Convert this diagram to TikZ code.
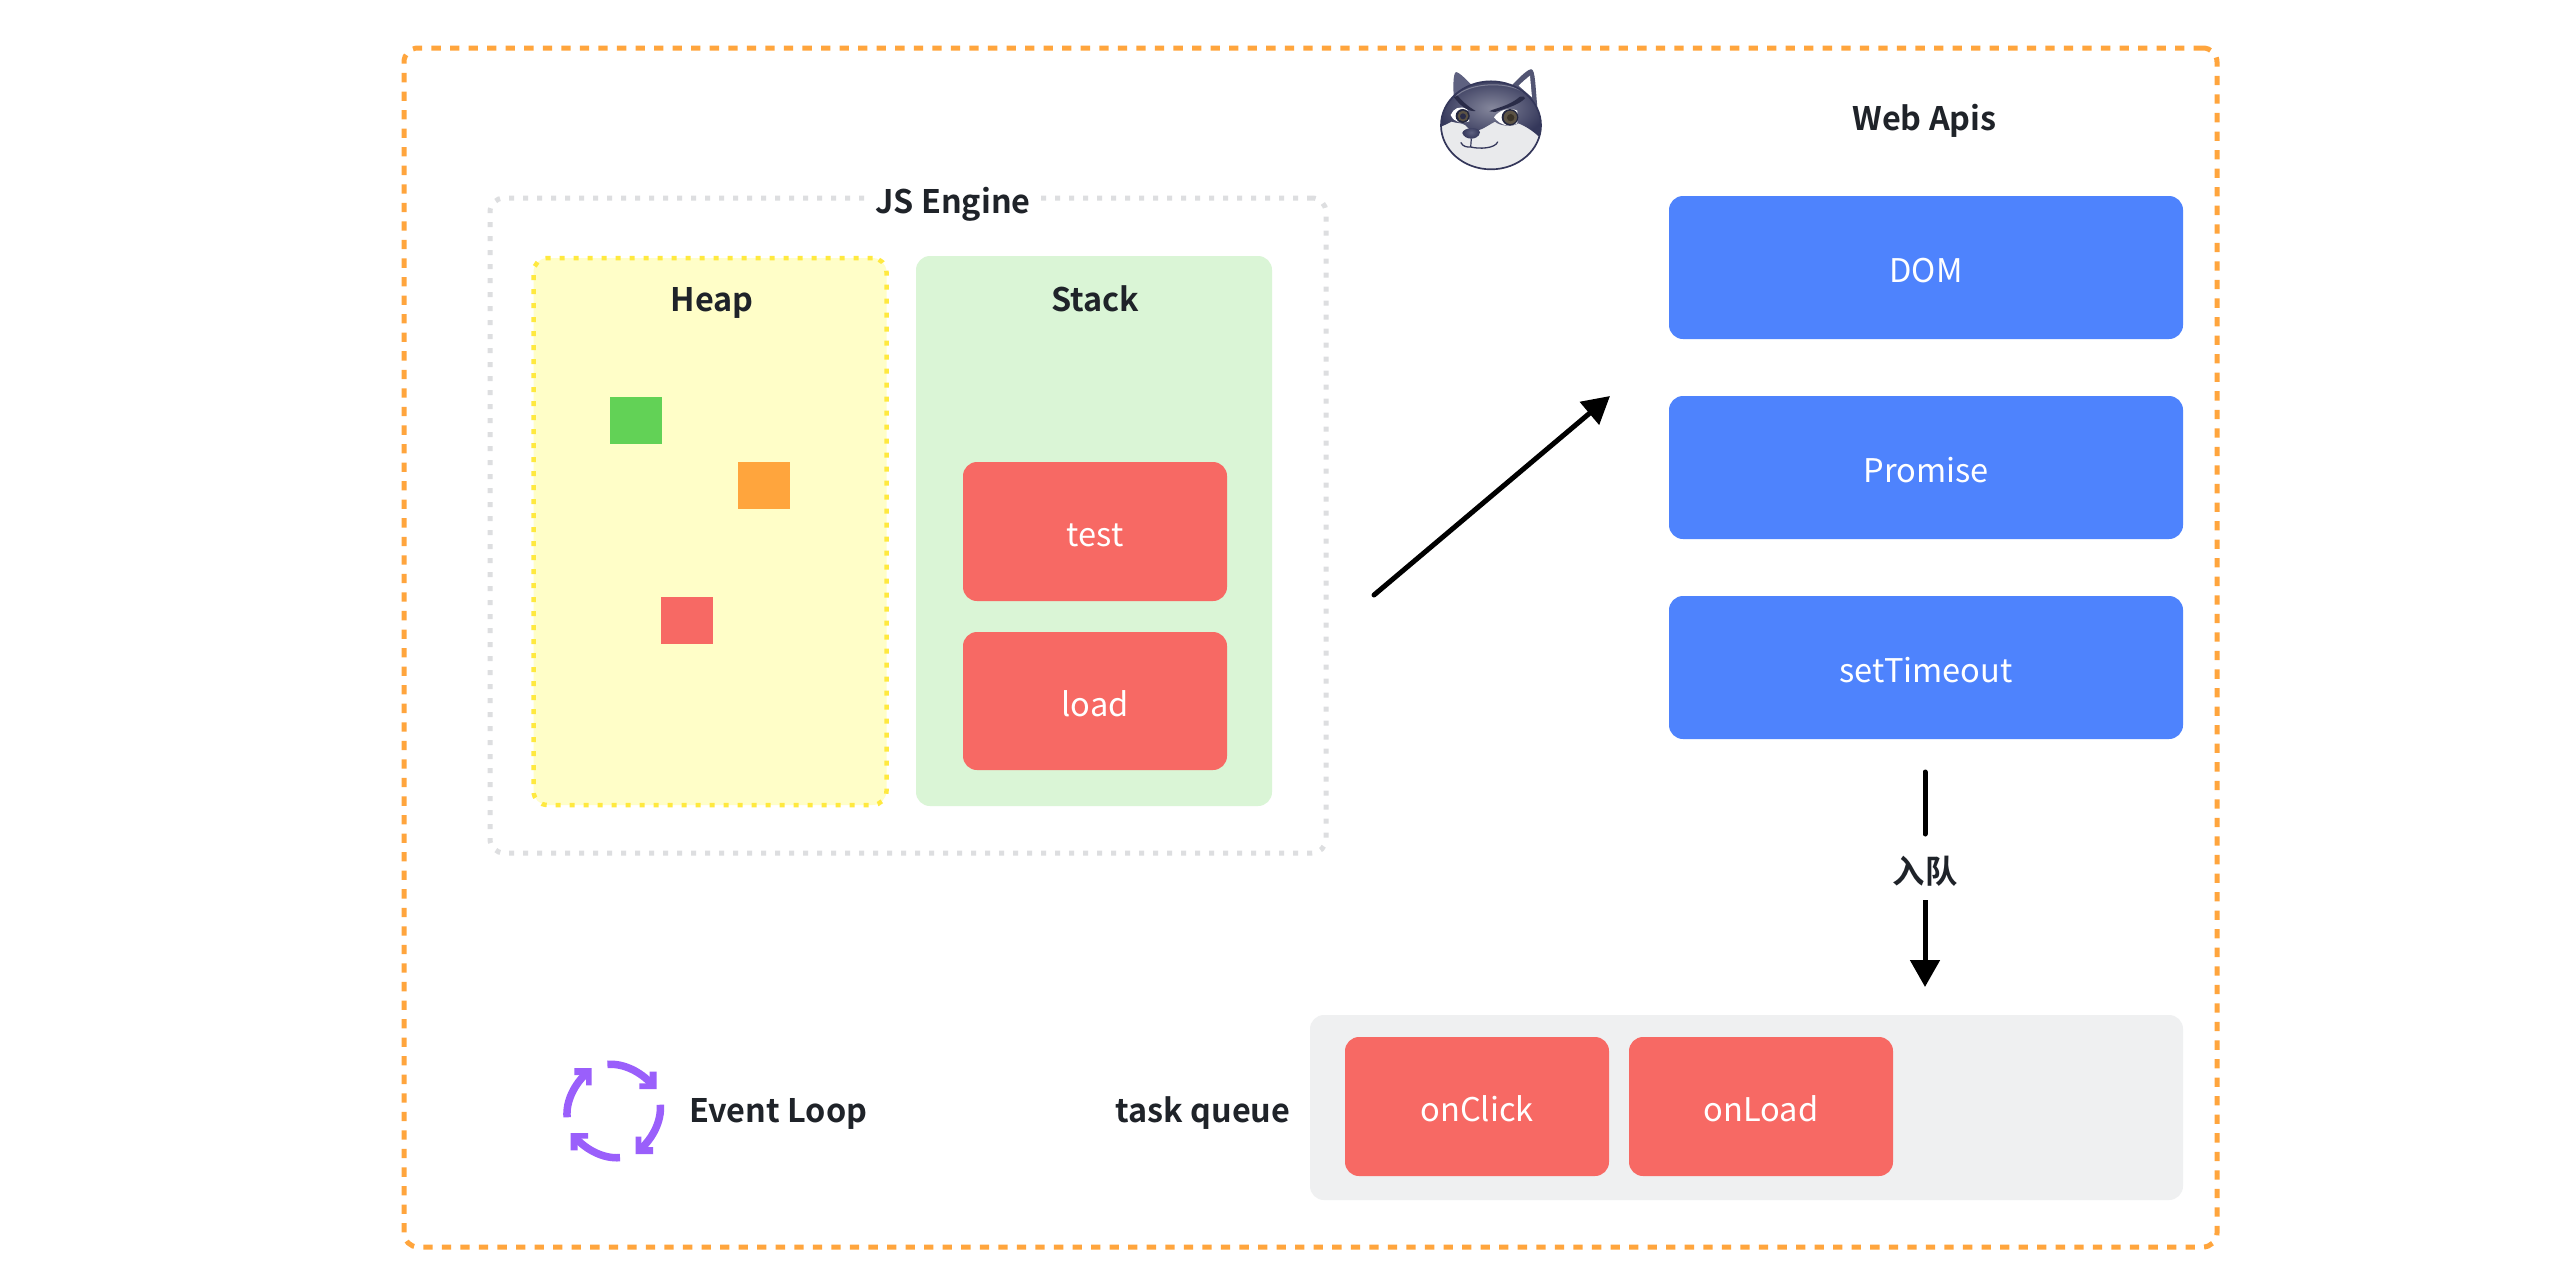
\documentclass[tikz,border=0pt]{standalone}
\usepackage{fontspec}
\setmainfont{Noto Sans CJK SC}[BoldFont={Noto Sans CJK SC Bold}]
\usetikzlibrary{arrows.meta}
\definecolor{outerc}{HTML}{FFA53D}
\definecolor{grayc}{HTML}{DDDEE0}
\definecolor{heapf}{HTML}{FFFEC8}
\definecolor{heaps}{HTML}{FFE93F}
\definecolor{stackf}{HTML}{DAF5D6}
\definecolor{redc}{HTML}{F76964}
\definecolor{greenc}{HTML}{62D256}
\definecolor{bluec}{HTML}{4E83FD}
\definecolor{queuef}{HTML}{EFF0F1}
\definecolor{inkc}{HTML}{1F2329}
\definecolor{purplec}{HTML}{9A5FFB}
\definecolor{dogdark}{HTML}{34375A}
\definecolor{dogmid}{HTML}{85879C}
\definecolor{dogface}{HTML}{E9EAEC}
\definecolor{dogear}{HTML}{5E6180}
\definecolor{dogiris}{HTML}{5C5344}
\definecolor{dogpupil}{HTML}{3A3328}
\tikzset{
  every node/.style={inner sep=0pt, outer sep=0pt, text height=30pt, text depth=0pt, font=\fontsize{32.6}{40}\selectfont},
  panel/.style={rounded corners=14pt},
  outerbox/.style={panel, draw=outerc, line width=5pt, dash pattern=on 9.3pt off 9.25pt},
  enginebox/.style={panel, draw=grayc, line width=5pt, dash pattern=on 5pt off 9pt},
  heapbox/.style={panel, fill=heapf, draw=heaps, line width=4.5pt, dash pattern=on 5pt off 9pt},
  stackbox/.style={panel, fill=stackf},
  redbox/.style={panel, fill=redc, text=white},
  bluebox/.style={panel, fill=bluec, text=white},
  queuebox/.style={panel, fill=queuef},
  title/.style={text=inkc, font=\fontsize{32.4}{40}\selectfont\bfseries},
  flow/.style={line width=5pt, draw=black},
  flowtip/.style={-{Triangle[length=27pt,width=29pt]}},
}
\begin{document}
\begin{tikzpicture}[x=1pt,y=-1pt]
\useasboundingbox (0,0) rectangle (2554,1270);
\fill[white] (0,0) rectangle (2554,1270);
% containers
\node[outerbox, minimum width=1813pt, minimum height=1199pt] (outer) at (1310.5,647.5) {};
\node[enginebox, minimum width=836pt, minimum height=655pt] (engine) at (908,525.5) {};
\node[title, fill=white, inner xsep=4pt] (enginet) at (953,198.5) {JS Engine};
\node[heapbox, minimum width=353pt, minimum height=547pt] (heap) at (710,531.5) {};
\node[title] (heapt) at (712,296.5) {Heap};
\node[stackbox, minimum width=356pt, minimum height=550pt] (stack) at (1094,531) {};
\node[title] (stackt) at (1095,296.5) {Stack};
% heap objects
\node[fill=greenc, minimum width=52pt, minimum height=47pt] (sqg) at (635.5,420.5) {};
\node[fill=outerc, minimum width=52pt, minimum height=47pt] (sqo) at (763.5,485.5) {};
\node[fill=redc, minimum width=52pt, minimum height=47pt] (sqr) at (687,620) {};
% stack frames
\node[redbox, minimum width=264pt, minimum height=139pt] (test) at (1095,531.5) {test};
\node[redbox, minimum width=264pt, minimum height=138pt] (load) at (1095,701) {load};
% web apis
\node[title] (webt) at (1924.5,115) {Web Apis};
\node[bluebox, minimum width=514pt, minimum height=143pt] (dom) at (1926,267.5) {DOM};
\node[bluebox, minimum width=514pt, minimum height=143pt] (promise) at (1926,467.5) {Promise};
\node[bluebox, minimum width=514pt, minimum height=143pt] (timeout) at (1926,667.5) {setTimeout};
% queue
\node[queuebox, minimum width=873pt, minimum height=185pt] (queue) at (1746.5,1107.5) {};
\node[redbox, minimum width=264pt, minimum height=139pt] (onclick) at (1477,1106.5) {onClick};
\node[redbox, minimum width=264pt, minimum height=139pt] (onload) at (1761,1106.5) {onLoad};
\node[title] (queuet) at (1203,1107) {task queue};
\node[title, anchor=west] (loopt) at (689,1107) {Event Loop};
% connectors
\coordinate (diagfrom) at (1374,595);
\coordinate (diagto) at (1610,396);
\draw[flow, flowtip, line cap=round] (diagfrom) -- (diagto);
\coordinate (enqfrom) at (1925,772);
\coordinate (enqto) at (1925,987);
\node[title, minimum height=66pt, text height=33pt] (enq) at (1925,867) {入队};
\draw[flow, line cap=round] (enqfrom) -- (enq.north);
\draw[flow, flowtip] (enq.south) -- (enqto);
% event loop icon
\foreach \r in {0,90,180,270}{
\begin{scope}[shift={(613.7,1111)}, rotate=\r]
  \draw[purplec, line width=7.5pt] (-6.3,-46.6) .. controls (10,-48) and (27,-39) .. (38,-27);
  \fill[purplec] (43,-22) -- (43,-39.3) -- (36,-39.3) -- (36,-27.7) -- (25.7,-27.7) -- (25.7,-22) -- cycle;
\end{scope}}
% dog avatar
\begin{scope}[shift={(1380,40)}, x=0.3333pt, y=-0.3333pt]
  % ears
  \fill[dogear] (222,185) .. controls (219,140) and (219,100) .. (228,96) .. controls (240,98) and (262,122) .. (282,142) -- cycle;
  \fill[dogdark!85!white] (392,140) .. controls (415,115) and (445,85) .. (455,88) .. controls (466,92) and (466,140) .. (472,200) -- (440,170) -- cycle;
  \fill[white] (416,137) .. controls (428,125) and (440,115) .. (450,107) .. controls (452,130) and (454,150) .. (456,172) -- cycle;
  % head
  \fill[dogface] (333,256) ellipse [x radius=150, y radius=132];
  \begin{scope}
    \clip (333,256) ellipse [x radius=150, y radius=132];
    \shade[inner color=dogmid, outer color=dogdark]
      (170,262) -- (188,258) .. controls (198,255) and (205,248) .. (215,245) .. controls (230,250) and (245,248) .. (255,255) .. controls (262,262) and (268,270) .. (280,272) .. controls (300,275) and (320,258) .. (345,245) .. controls (360,258) and (395,262) .. (415,250) .. controls (435,258) and (460,272) .. (485,298) -- (500,110) -- (170,110) -- cycle;
    \draw[white, opacity=.3, line width=1pt] (225,172) .. controls (265,125) and (400,120) .. (445,168);
  \end{scope}
  \draw[dogdark, line width=1.7pt] (333,256) ellipse [x radius=150, y radius=132];
  % eyes
  \fill[white] (212,225) .. controls (220,205) and (240,195) .. (262,208) -- (268,244) .. controls (245,252) and (222,248) .. cycle;
  \fill[white] (342,232) .. controls (355,212) and (385,200) .. (412,212) -- (412,250) .. controls (390,262) and (362,258) .. cycle;
  \fill[dogdark!70!black] (248,228) circle [radius=21];
  \fill[dogiris] (249,228) circle [radius=16];
  \fill[dogdark!80!black] (249,229) circle [radius=9];
  \fill[dogdark!70!black] (390,232) circle [radius=25];
  \fill[dogiris] (391,232) circle [radius=20];
  \fill[dogpupil] (392,233) circle [radius=11];
  % brows
  \fill[dogdark!80!black] (222,172) -- (232,166) .. controls (245,182) and (262,198) .. (287,213) .. controls (262,216) and (240,195) .. cycle;
  \fill[dogdark!80!black] (328,214) .. controls (345,204) and (385,200) .. (420,170) .. controls (428,167) and (436,170) .. (435,175) .. controls (420,192) and (385,204) .. (345,216) -- cycle;
  % nose and mouth
  \shade[inner color=dogear, outer color=dogdark] (247,279) .. controls (250,262) and (296,258) .. (300,277) .. controls (298,290) and (285,296) .. (274,296) .. controls (262,296) and (250,290) .. cycle;
  \draw[dogdark, line width=1.2pt] (274,296) -- (272,321);
  \draw[dogdark, line width=1.3pt, line cap=round] (243,308) .. controls (248,320) and (262,322) .. (272,321) .. controls (300,328) and (345,325) .. (353,306);
\end{scope}
\end{tikzpicture}
\end{document}
